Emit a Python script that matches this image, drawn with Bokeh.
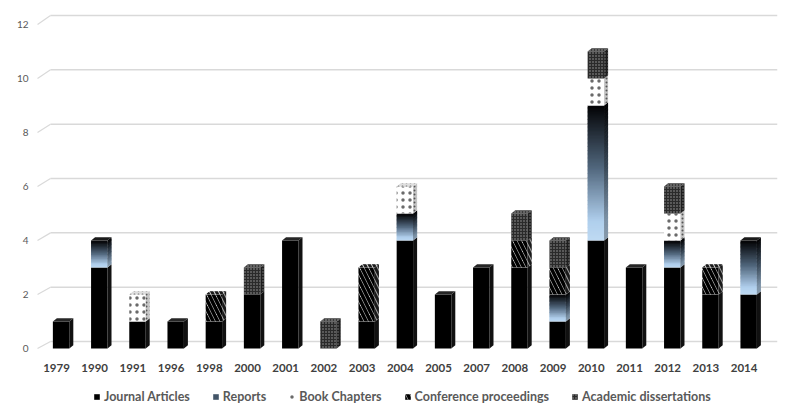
import numpy as np
from bokeh.plotting import figure
from bokeh.models import (Range1d, Legend, LegendItem, FixedTicker,
                          ColumnDataSource)
from bokeh.embed import file_html
from bokeh.resources import INLINE

# ---------------- data ----------------
years = ["1979", "1990", "1991", "1996", "1998", "2000", "2001", "2002", "2003", "2004",
         "2005", "2007", "2008", "2009", "2010", "2011", "2012", "2013", "2014"]
journal_articles = [1, 3, 1, 1, 1, 2, 4, 0, 1, 4, 2, 3, 3, 1, 4, 3, 3, 2, 2]
reports = [0, 1, 0, 0, 0, 0, 0, 0, 0, 1, 0, 0, 0, 1, 5, 0, 1, 0, 2]
book_chapters = [0, 0, 1, 0, 0, 0, 0, 0, 0, 1, 0, 0, 0, 0, 1, 0, 1, 0, 0]
conference_proceedings = [0, 0, 0, 0, 1, 0, 0, 0, 2, 0, 0, 0, 1, 1, 0, 0, 0, 1, 0]
academic_dissertations = [0, 0, 0, 0, 0, 1, 0, 1, 0, 0, 0, 0, 1, 1, 1, 0, 1, 0, 0]
y_ticks = [0, 2, 4, 6, 8, 10, 12]

series = [
    ("Journal Articles", journal_articles),
    ("Reports", reports),
    ("Book Chapters", book_chapters),
    ("Conference proceedings", conference_proceedings),
    ("Academic dissertations", academic_dissertations),
]

# ---------------- styles ----------------
styles = {
    "Journal Articles": dict(front=dict(fill_color="#000000"),
                             side=dict(fill_color="#111111"),
                             top=dict(fill_color="#262626")),
    "Book Chapters": dict(front=dict(fill_color="#ffffff", hatch_pattern="dot", hatch_color="#6a6a6a",
                                     hatch_scale=7, hatch_weight=0.3),
                          side=dict(fill_color="#c4c4c4", hatch_pattern="dot", hatch_color="#555555",
                                    hatch_scale=4, hatch_weight=0.35),
                          top=dict(fill_color="#dedede", hatch_pattern="dot", hatch_color="#666666",
                                   hatch_scale=4, hatch_weight=0.35)),
    "Conference proceedings": dict(front=dict(fill_color="#ffffff", hatch_pattern="left_diagonal_line",
                                              hatch_color="#000000", hatch_scale=9, hatch_weight=3.6),
                                   side=dict(fill_color="#9a9a9a", hatch_pattern="left_diagonal_line",
                                             hatch_color="#1a1a1a", hatch_scale=9, hatch_weight=3.0),
                                   top=dict(fill_color="#cfcfcf", hatch_pattern="left_diagonal_line",
                                            hatch_color="#1a1a1a", hatch_scale=9, hatch_weight=3.0)),
    "Academic dissertations": dict(front=dict(fill_color="#2a2a2a", hatch_pattern="dot",
                                              hatch_color="#a0a0a0", hatch_scale=3, hatch_weight=0.7),
                                   side=dict(fill_color="#1e1e1e", hatch_pattern="dot",
                                             hatch_color="#808080", hatch_scale=3, hatch_weight=0.7),
                                   top=dict(fill_color="#3a3a3a", hatch_pattern="dot",
                                            hatch_color="#a0a0a0", hatch_scale=3, hatch_weight=0.7)),
}

GRAD = [(0.0, (192, 219, 243)), (0.15, (176, 207, 237)), (0.55, (80, 102, 124)), (1.0, (4, 4, 6))]


def grad_color(t, dark=1.0):
    for (t0, c0), (t1, c1) in zip(GRAD[:-1], GRAD[1:]):
        if t <= t1:
            f = (t - t0) / (t1 - t0) if t1 > t0 else 0
            c = [int((a + (b - a) * f) * dark) for a, b in zip(c0, c1)]
            return "#%02x%02x%02x" % tuple(c)
    return "#000000"


n = len(years)
xs = np.arange(n)
totals = np.sum([np.array(v) for _, v in series], axis=0)

BW = 0.43     # front face width (x units)
DX = 0.105    # depth in x
DY = 0.12     # depth in y
XOFF = 0.12   # bars sit slightly behind/right of labels
SLICES = 20   # gradient slices per unit
OVL = 0.03    # slice overlap to hide seams

# frame spans page x 0..777, y 13..410; value 0 at y=348, 27 px per unit
X_START, X_END = -1.466, 18.875
Y_START, Y_END = -2.294, 12.41
B_START, B_END = -2.538, 12.074       # back wall range (gridlines)
G_X0, D_X0 = -0.157, -0.497           # gridline start / perspective stub start
Y_AXIS_X = -0.681                     # where the value axis sits

p = figure(width=800, height=414, output_backend="svg", toolbar_location=None,
           x_range=Range1d(X_START, X_END), y_range=Range1d(Y_START, Y_END),
           min_border_left=0, min_border_right=23, min_border_top=13, min_border_bottom=4)
p.extra_y_ranges = {"back": Range1d(B_START, B_END)}
p.outline_line_color = None
p.background_fill_color = "white"
p.border_fill_color = "white"
p.xgrid.visible = False
p.ygrid.visible = False

# back-wall gridlines and their perspective stubs
yt = np.array(y_ticks, dtype=float)
p.segment(x0=[G_X0] * len(yt), y0=yt, x1=[X_END] * len(yt), y1=yt, y_range_name="back",
          line_color="#d9d9d9", line_width=1.5)
yt_back_in_front = Y_START + (yt - B_START) * (Y_END - Y_START) / (B_END - B_START)
p.segment(x0=[D_X0] * len(yt), y0=yt, x1=[G_X0] * len(yt), y1=yt_back_in_front,
          line_color="#d9d9d9", line_width=1.2)

legend_items = []
cum = np.zeros(n)
for name, vals in series:
    vals = np.array(vals, dtype=float)
    bottoms = cum.copy()
    tops = cum + vals
    cum = tops
    idx = [i for i in range(n) if vals[i] > 0]
    xc = xs + XOFF
    if name == "Reports":
        fx, fb, ft, fc = [], [], [], []
        sx, sy, sc = [], [], []
        tx, ty, tc = [], [], []
        for i in idx:
            k = int(round(vals[i] * SLICES))
            for j in range(k):
                b = bottoms[i] + vals[i] * j / k
                t = bottoms[i] + vals[i] * (j + 1) / k
                bo = b - OVL if j > 0 else b
                col = grad_color((j + 0.5) / k)
                fx.append(xc[i]); fb.append(bo); ft.append(t); fc.append(col)
                xr = xc[i] + BW / 2
                sx.append([xr, xr + DX, xr + DX, xr]); sy.append([bo, bo + DY, t + DY, t])
                sc.append(grad_color((j + 0.5) / k, 0.7))
            if tops[i] == totals[i]:
                xl = xc[i] - BW / 2; xr = xc[i] + BW / 2; t = tops[i]
                tx.append([xl, xl + DX, xr + DX, xr]); ty.append([t, t + DY, t + DY, t])
                tc.append("#1a1a1a")
        src = ColumnDataSource(dict(x=fx, bottom=fb, top=ft, color=fc))
        r = p.vbar(x="x", bottom="bottom", top="top", width=BW, source=src,
                   fill_color="color", line_color=None)
        p.patches(xs=sx, ys=sy, fill_color=sc, line_color=None)
        if tx:
            p.patches(xs=tx, ys=ty, fill_color=tc, line_color=None)
        legend_items.append(LegendItem(label=name, renderers=[r], index=12))
        continue
    st = styles[name]
    src = ColumnDataSource(dict(x=[xc[i] for i in idx], bottom=[bottoms[i] for i in idx],
                                top=[tops[i] for i in idx]))
    r = p.vbar(x="x", bottom="bottom", top="top", width=BW, source=src,
               line_color=None, **st["front"])
    sx, sy, tx, ty = [], [], [], []
    for i in idx:
        xl = xc[i] - BW / 2; xr = xc[i] + BW / 2
        b, t = bottoms[i], tops[i]
        sx.append([xr, xr + DX, xr + DX, xr]); sy.append([b, b + DY, t + DY, t])
        if t == totals[i]:
            tx.append([xl, xl + DX, xr + DX, xr]); ty.append([t, t + DY, t + DY, t])
    p.patches(xs=sx, ys=sy, line_color=None, **st["side"])
    if tx:
        p.patches(xs=tx, ys=ty, line_color=None, **st["top"])
    legend_items.append(LegendItem(label=name, renderers=[r], index=0))

# axes
p.yaxis.fixed_location = Y_AXIS_X
p.yaxis.ticker = FixedTicker(ticks=y_ticks)
p.yaxis.axis_line_color = None
p.yaxis.major_tick_line_color = None
p.yaxis.minor_tick_line_color = None
p.yaxis.major_tick_out = 0
p.yaxis.major_tick_in = 0
p.yaxis.minor_tick_out = 0
p.yaxis.major_label_text_font = "Lato"
p.yaxis.major_label_text_font_size = "10px"
p.yaxis.major_label_text_color = "#595959"
p.yaxis.major_label_standoff = 2

p.xaxis.fixed_location = 0
p.xaxis.ticker = FixedTicker(ticks=list(xs))
p.xaxis.major_label_overrides = {int(i): y for i, y in zip(xs, years)}
p.xaxis.axis_line_color = None
p.xaxis.major_tick_line_color = None
p.xaxis.minor_tick_line_color = None
p.xaxis.major_tick_out = 0
p.xaxis.major_tick_in = 0
p.xaxis.minor_tick_out = 0
p.xaxis.major_label_text_font = "Lato"
p.xaxis.major_label_text_font_style = "bold"
p.xaxis.major_label_text_font_size = "11.5px"
p.xaxis.major_label_text_color = "#404040"
p.xaxis.major_label_standoff = 15

legend = Legend(items=legend_items, orientation="horizontal", location=(93, 6),
                padding=0, margin=0, spacing=22, label_standoff=4,
                glyph_width=7, glyph_height=7, label_height=13,
                label_text_font="Lato", label_text_font_style="bold",
                label_text_font_size="12.5px", label_text_color="#595959",
                background_fill_alpha=0, border_line_color=None)
p.add_layout(legend)

open("out.html", "w").write(file_html(p, INLINE))
